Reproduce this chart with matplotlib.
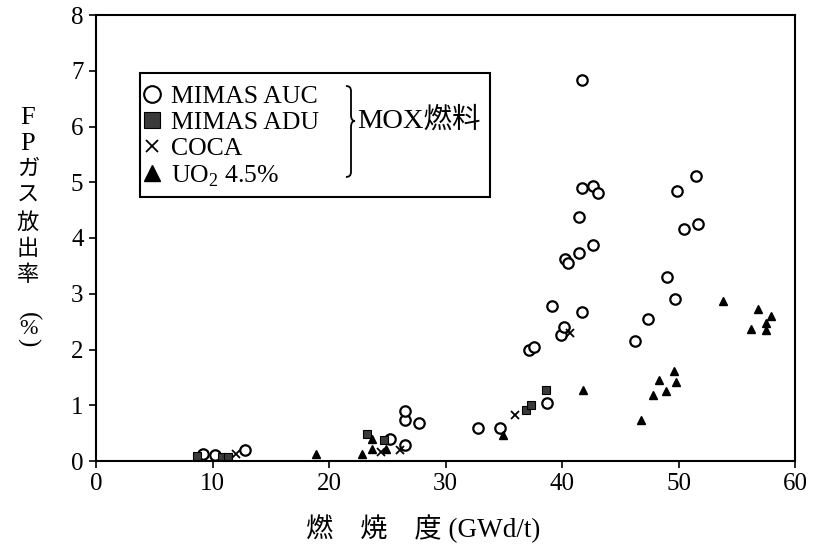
import matplotlib
matplotlib.use("Agg")
import matplotlib.pyplot as plt
from matplotlib.path import Path
from matplotlib.patches import PathPatch, Rectangle
from matplotlib.lines import Line2D

plt.rcParams['font.family'] = ['Liberation Serif', 'Noto Sans CJK JP']
plt.rcParams['mathtext.fontset'] = 'custom'
plt.rcParams['mathtext.rm'] = 'Liberation Serif'

# ---- data (burnup GWd/t, FP gas release %) ----
auc_x = [9.2, 10.2, 12.8, 25.2, 26.5, 26.5, 26.5, 27.7, 32.8, 34.7, 38.7,
         37.2, 37.6, 39.1, 39.9, 40.2, 41.7, 40.3, 40.5, 41.5, 42.7, 41.5,
         41.7, 42.7, 43.1, 41.7, 46.3, 47.4, 49.0, 49.7, 49.9, 50.5, 51.5, 51.7]
auc_y = [0.12, 0.10, 0.20, 0.40, 0.28, 0.74, 0.89, 0.68, 0.60, 0.60, 1.04,
         2.00, 2.05, 2.78, 2.26, 2.41, 2.68, 3.62, 3.55, 3.73, 3.88, 4.37,
         4.90, 4.93, 4.81, 6.83, 2.15, 2.54, 3.30, 2.90, 4.84, 4.16, 5.11, 4.26]

adu_x = [8.7, 10.8, 11.3, 23.3, 24.7, 36.9, 37.3, 38.6]
adu_y = [0.09, 0.08, 0.08, 0.49, 0.38, 0.92, 1.00, 1.27]

coca_x = [12.0, 24.5, 26.1, 36.0, 40.7]
coca_y = [0.13, 0.17, 0.19, 0.83, 2.30]

uo2_x = [18.9, 22.8, 23.7, 23.7, 24.9, 34.9, 41.8, 46.8, 47.8, 48.3, 48.9,
         49.6, 49.8, 53.8, 56.2, 56.8, 57.5, 57.5, 57.9]
uo2_y = [0.13, 0.13, 0.40, 0.22, 0.22, 0.47, 1.27, 0.73, 1.18, 1.45, 1.26,
         1.61, 1.41, 2.87, 2.37, 2.72, 2.48, 2.35, 2.60]

x_ticks = [0, 10, 20, 30, 40, 50, 60]
y_ticks = [0, 1, 2, 3, 4, 5, 6, 7, 8]
legend_labels = ['MIMAS AUC', 'MIMAS ADU', 'COCA', 'UO$_{\\mathrm{2}}$ 4.5%']

W, H = 826, 546
fig = plt.figure(figsize=(W / 100, H / 100), dpi=100)
ax = fig.add_axes([96 / W, (H - 461) / H, 699 / W, 446 / H])


def px(x, y):
    return x / W, (H - y) / H


ax.plot(auc_x, auc_y, linestyle='none', marker='o', ms=7.5, mfc='white',
        mec='black', mew=1.6)
ax.plot(adu_x, adu_y, linestyle='none', marker='s', ms=6, mfc='#3a3a3a',
        mec='black', mew=0.8)
ax.plot(coca_x, coca_y, linestyle='none', marker='x', ms=5.5, color='black',
        mew=1.3)
ax.plot(uo2_x, uo2_y, linestyle='none', marker='^', ms=6, color='black')

ax.set_xlim(0, 60)
ax.set_ylim(0, 8)
ax.set_xticks(x_ticks)
ax.set_yticks(y_ticks)
ax.tick_params(direction='out', length=5, width=1.2, labelsize=18, pad=4)
for s in ax.spines.values():
    s.set_linewidth(1.5)

# axis labels
fig.text(*px(423, 529), '燃\u3000焼\u3000度 (GWd/t)', ha='center', va='center',
         fontsize=19.5)
ylab_chars = ['F', 'P', 'ガ', 'ス', '放', '出', '率']
for i, ch in enumerate(ylab_chars):
    fs = 19 if ch in 'FP' else 16
    fig.text(*px(28, 118 + i * 26.3), ch, ha='center', va='center',
             fontsize=fs)
fig.text(*px(28, 316), '(', ha='center', va='center', fontsize=18, rotation=-90)
fig.text(*px(28, 329), '%', ha='center', va='center', fontsize=16)
fig.text(*px(28, 342), ')', ha='center', va='center', fontsize=18, rotation=-90)

# legend
handles = [
    Line2D([], [], linestyle='none', marker='o', ms=12, mfc='white', mec='black', mew=1.5),
    Line2D([], [], linestyle='none', marker='s', ms=11, mfc='#3a3a3a', mec='black', mew=0.8),
    Line2D([], [], linestyle='none', marker='x', ms=8, color='black', mew=1.3),
    Line2D([], [], linestyle='none', marker='^', ms=11, color='black'),
]
leg = fig.legend(handles, legend_labels, loc='upper left',
                 bbox_to_anchor=px(143, 85), frameon=False, fontsize=18.5,
                 handlelength=0.7, handletextpad=0.4, labelspacing=0.12,
                 borderpad=0, borderaxespad=0)
fig.add_artist(Rectangle(px(140, 197), 350 / W, 124 / H, fill=False,
                         edgecolor='black', linewidth=1.5,
                         transform=fig.transFigure))

# brace
bx, top, mid, bot = 346, 86, 121, 177
verts = [px(bx, top), px(bx + 5, top), px(bx + 5, top + 5),
         px(bx + 5, mid - 6), px(bx + 5, mid), px(bx + 9, mid),
         px(bx + 5, mid), px(bx + 5, mid + 6),
         px(bx + 5, bot - 5), px(bx + 5, bot), px(bx, bot)]
codes = [Path.MOVETO, Path.CURVE3, Path.CURVE3,
         Path.LINETO, Path.CURVE3, Path.CURVE3,
         Path.CURVE3, Path.CURVE3,
         Path.LINETO, Path.CURVE3, Path.CURVE3]
fig.add_artist(PathPatch(Path(verts, codes), fill=False, lw=1.3,
                         edgecolor='black', transform=fig.transFigure))
fig.text(*px(357, 121), 'MOX燃料', ha='left', va='center', fontsize=20.5)

fig.savefig('out.png', dpi=100)
